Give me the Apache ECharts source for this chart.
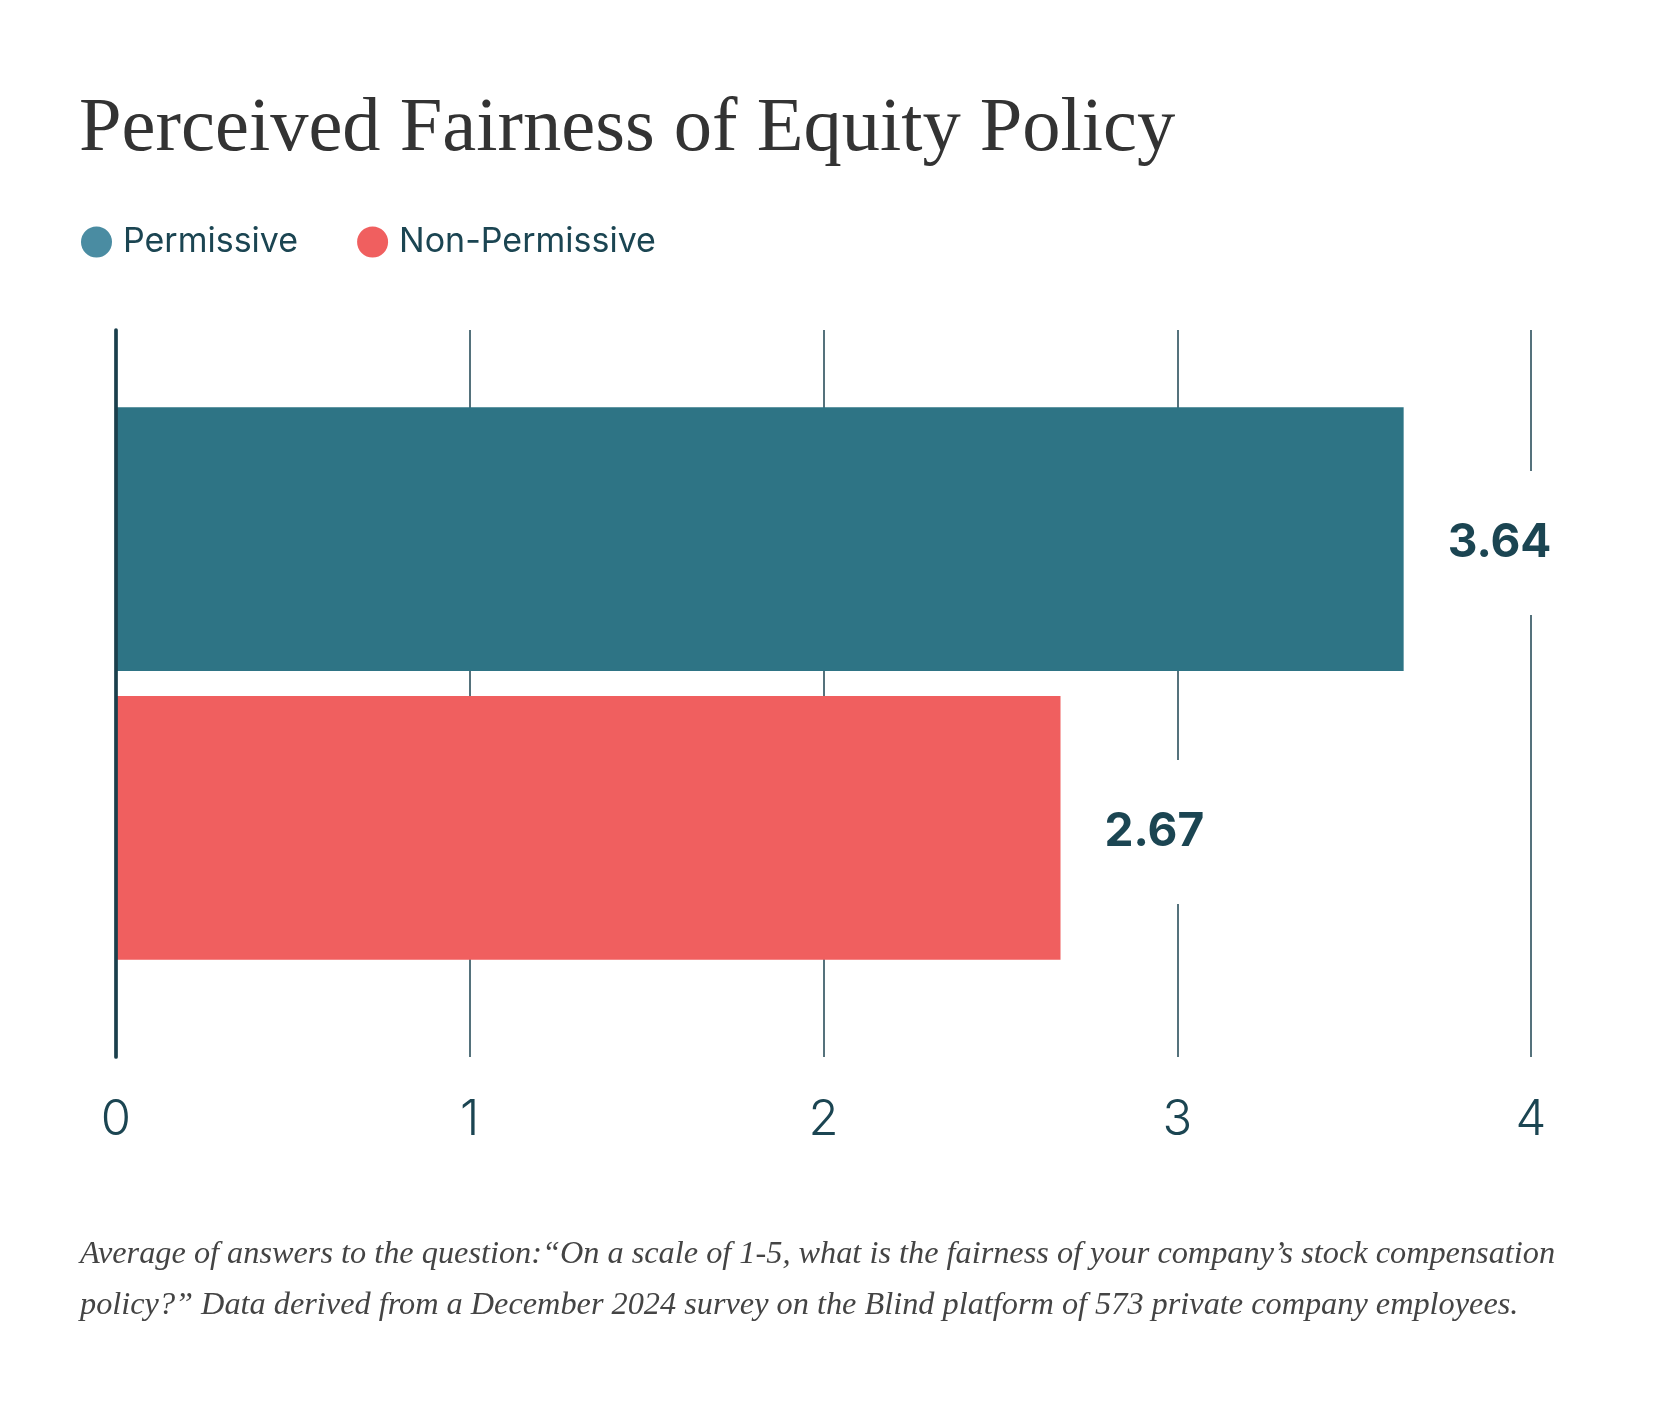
<!DOCTYPE html>
<html>
<head>
<meta charset="utf-8">
<script src="https://cdn.jsdelivr.net/npm/echarts@6/dist/echarts.min.js"></script>
<style>
html,body{margin:0;padding:0;background:#fff;}
#chart{width:1653px;height:1407px;}
</style>
</head>
<body>
<div id="chart"></div>
<script>
const titleText = 'Perceived Fairness of Equity Policy';
const footnoteLines = [
  'Average of answers to the question:\u201cOn a scale of 1-5, what is the fairness of your company\u2019s stock compensation',
  'policy?\u201d Data derived from a December 2024 survey on the Blind platform of 573 private company employees.'
];
const categories = ['Equity policy'];
const seriesNames = ['Permissive', 'Non-Permissive'];
const permissive = [3.64];
const nonPermissive = [2.67];
const xTicks = [0, 1, 2, 3, 4];

const barColors = ['#2e7485', '#f05f5f'];
const legendColors = ['#4a8ca2', '#f05f5f'];
const ink = '#1b4552';

const chart = echarts.init(document.getElementById('chart'), null, {renderer: 'canvas'});

const labelOpt = {
  show: true,
  position: 'right',
  distance: 32,
  offset: [0, 4],
  formatter: p => p.value.toFixed(2),
  fontFamily: 'Inter',
  fontWeight: 'bold',
  fontSize: 46,
  lineHeight: 50,
  color: ink,
  backgroundColor: '#ffffff',
  padding: [47, 12, 47, 12]
};

chart.setOption({
  backgroundColor: '#ffffff',
  animation: false,
  title: [
    {
      text: titleText,
      left: 79,
      top: 91,
      padding: 0,
      textStyle: {
        fontFamily: 'Liberation Serif',
        fontWeight: 'normal',
        fontSize: 76.5,
        lineHeight: 77,
        color: '#333333'
      }
    },
    {
      text: footnoteLines.join('\n'),
      left: 80,
      top: 1229,
      padding: 0,
      textStyle: {
        fontFamily: 'Liberation Serif',
        fontStyle: 'italic',
        fontWeight: 'normal',
        fontSize: 32.3,
        lineHeight: 51,
        color: '#444444'
      }
    }
  ],
  legend: {
    left: 81,
    top: 225,
    padding: 0,
    icon: 'circle',
    itemWidth: 31,
    itemHeight: 31,
    itemGap: 59,
    textStyle: {
      fontFamily: 'Inter',
      fontSize: 34,
      color: ink,
      padding: [0, 0, 0, 6]
    },
    data: seriesNames.map((n, i) => ({name: n, itemStyle: {color: legendColors[i]}}))
  },
  grid: [
    {left: 116, right: 122, top: 330, bottom: 350, containLabel: false},
    {left: 116, right: 122, top: 320, bottom: 360, containLabel: false}
  ],
  xAxis: [
    {
      type: 'value',
      gridIndex: 0,
      min: xTicks[0],
      max: xTicks[xTicks.length - 1],
      interval: 1,
      axisLine: {show: false},
      axisTick: {show: false},
      splitLine: {show: true, lineStyle: {color: '#1d4350', width: 1.5}},
      axisLabel: {
        margin: 38,
        fontFamily: 'Inter',
        fontWeight: 300,
        fontSize: 49,
        lineHeight: 50,
        color: ink
      }
    },
    {
      type: 'value',
      gridIndex: 1,
      min: xTicks[0],
      max: xTicks[xTicks.length - 1],
      interval: 1,
      show: false
    }
  ],
  yAxis: [
    {
      type: 'category',
      gridIndex: 0,
      data: categories,
      inverse: true,
      z: 5,
      axisLine: {show: true, lineStyle: {color: '#1a3f4c', width: 3.7}},
      axisTick: {show: false},
      axisLabel: {show: false},
      splitLine: {show: false}
    },
    {
      type: 'category',
      gridIndex: 1,
      data: categories,
      inverse: true,
      show: false
    }
  ],
  series: [
    {
      name: seriesNames[0],
      type: 'bar',
      xAxisIndex: 1,
      yAxisIndex: 1,
      data: permissive,
      barCategoryGap: '24%',
      barGap: '9.5%',
      itemStyle: {color: barColors[0]},
      label: labelOpt
    },
    {
      name: seriesNames[1],
      type: 'bar',
      xAxisIndex: 1,
      yAxisIndex: 1,
      data: nonPermissive,
      barCategoryGap: '24%',
      barGap: '9.5%',
      itemStyle: {color: barColors[1]},
      label: labelOpt
    }
  ]
});
</script>
</body>
</html>
